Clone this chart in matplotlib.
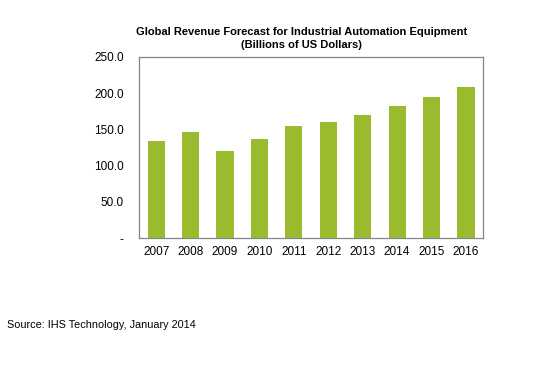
import matplotlib
matplotlib.use("Agg")
import matplotlib.pyplot as plt

years = ["2007", "2008", "2009", "2010", "2011", "2012", "2013", "2014", "2015", "2016"]
revenue = [134, 146, 120, 137, 155, 160, 170, 182, 195, 208]
yticks = [0, 50, 100, 150, 200, 250]
ytick_labels = ["-", "50.0", "100.0", "150.0", "200.0", "250.0"]

plt.rcParams['font.family'] = ['Liberation Sans', 'DejaVu Sans']

fig = plt.figure(figsize=(5.56, 3.84), dpi=100)
ax = fig.add_axes([0.25, 0.38, 0.619, 0.4716])
x = range(len(years))
ax.bar(x, revenue, width=0.5, color="#9BBB2F")
ax.set_xlim(-0.5, len(years) - 0.5)
ax.set_ylim(0, 250)
ax.set_yticks(yticks)
ax.set_yticklabels(ytick_labels)
ax.set_xticks(list(x))
ax.set_xticklabels(years)
ax.tick_params(axis='both', length=0, labelsize=8.5, colors="#000000")
ax.tick_params(axis='y', pad=11)
ax.tick_params(axis='x', pad=6)
for s in ax.spines.values():
    s.set_color("#868686")
    s.set_linewidth(0.9)

fig.text(0.543, 0.917, "Global Revenue Forecast for Industrial Automation Equipment",
         ha="center", va="center", fontsize=8, fontweight="bold")
fig.text(0.543, 0.883, "(Billions of US Dollars)",
         ha="center", va="center", fontsize=8, fontweight="bold")
fig.text(0.013, 0.154, "Source: IHS Technology, January 2014",
         ha="left", va="center", fontsize=7.8)

fig.savefig("out.png", dpi=100)
